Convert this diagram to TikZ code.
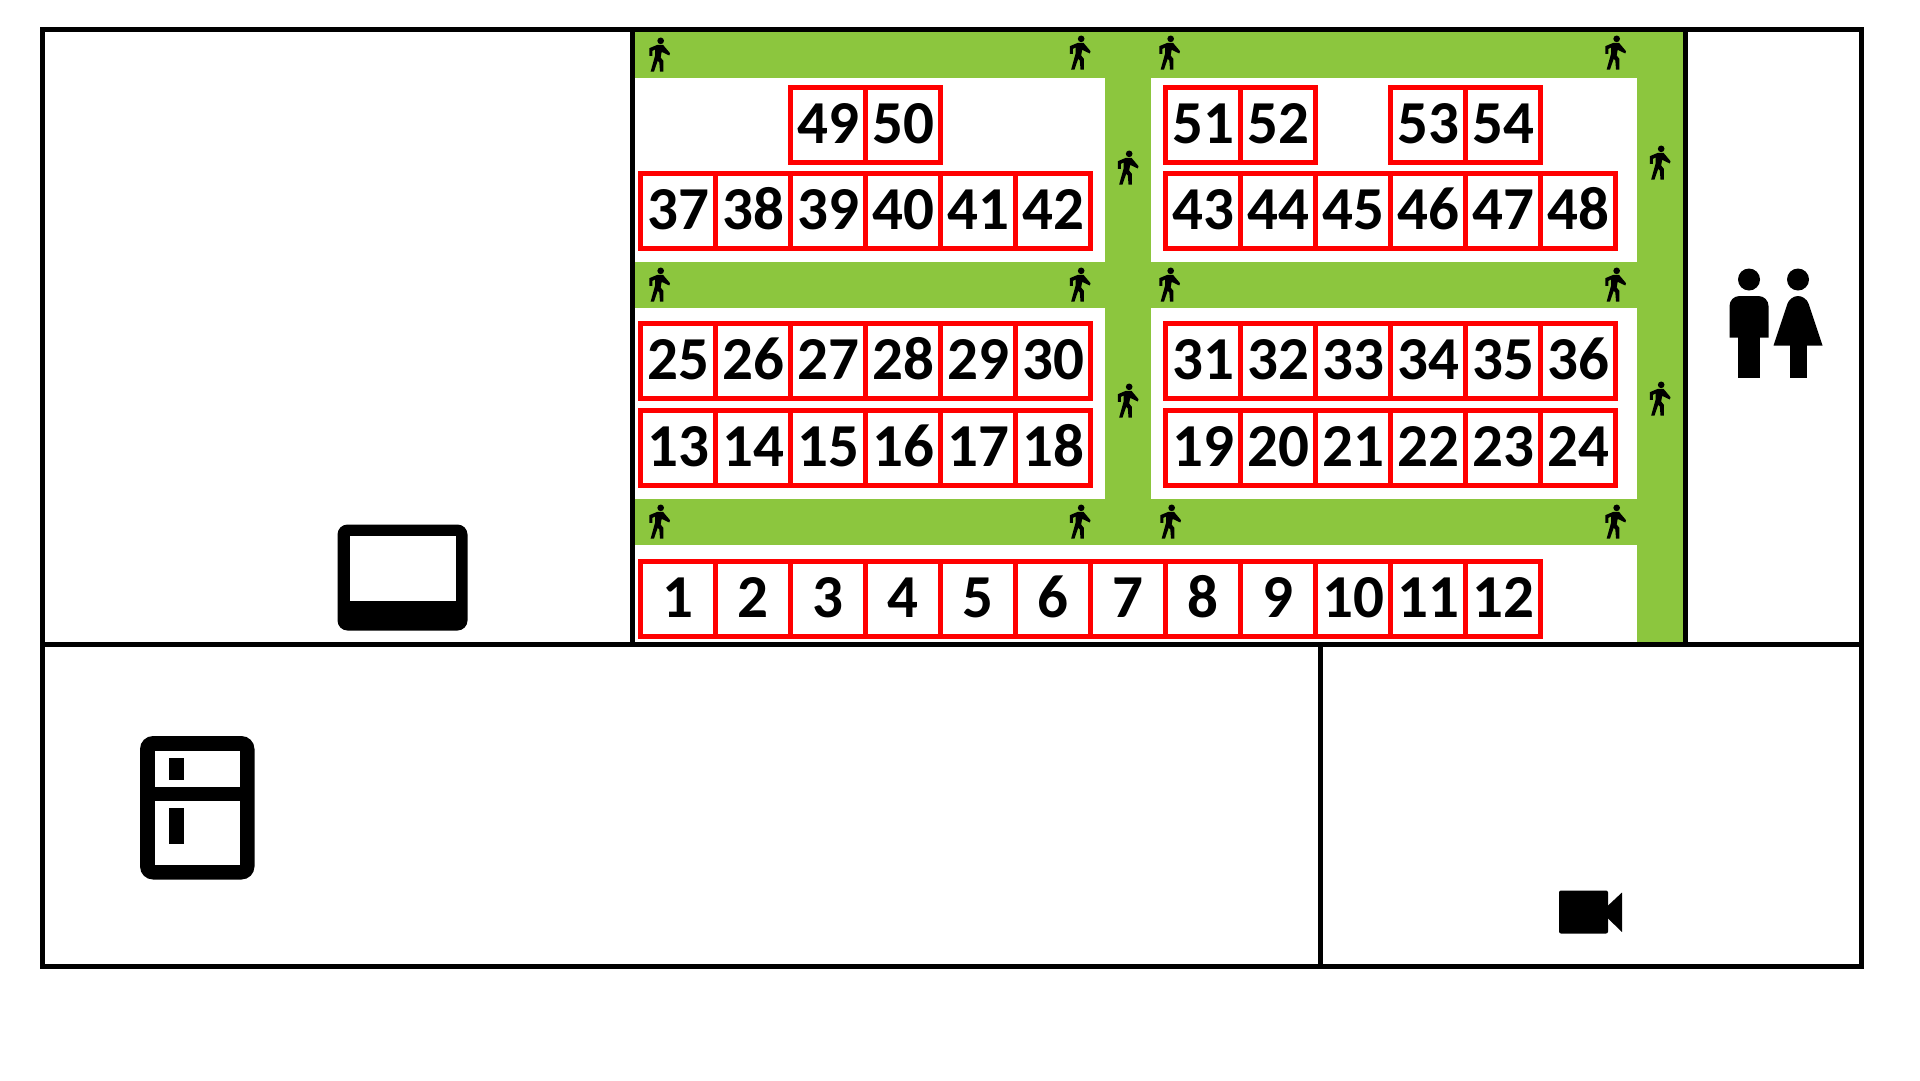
\documentclass[tikz,border=0pt]{standalone}
\usepackage{fontspec}
\setmainfont{Carlito}
\usetikzlibrary{positioning}
\definecolor{path}{HTML}{8CC63E}
\definecolor{seatred}{HTML}{FF0000}

\begin{document}
\begin{tikzpicture}[x=1pt,y=-1pt,
seat/.style={draw=seatred,line width=5pt,outer sep=0pt,inner sep=0pt,minimum width=75pt,minimum height=75pt,text height=36pt,text depth=0pt,font=\fontsize{61}{61}\selectfont\bfseries},
wall/.style={draw=black,line width=5pt},
walker/.pic={\fill[scale=1/3] (3.5,-45.5) circle (10);
\fill[scale=1/3] (-6.5,-33.5)--(10.5,-33.5)--(31.5,-8.5)--(29.5,-1.5)--(10.5,-10.5)--(6.5,-12.5)--(3.5,4.5)--(11.5,14.5)--(11.5,46.5)--(1.5,46.5)--(-0.5,19.5)--(-5.5,14.5)--(-16.5,46.5)--(-26.5,46.5)--(-13.5,-0.5)--(-13.5,-19.5)--(-21.5,-15.5)--(-21.5,-0.5)--(-30.5,-0.5)--(-30.5,-23.5)--cycle;}]
\useasboundingbox[fill=white] (0,0) rectangle (1920,1080);
% green walkway and the white blocks on it
\fill[path] (635,32) rectangle (1684,642);
\fill[white] (635,78) rectangle (1105,262);
\fill[white] (1151,78) rectangle (1637,262);
\fill[white] (635,308) rectangle (1105,499);
\fill[white] (1151,308) rectangle (1637,499);
\fill[white] (635,545) rectangle (1637,642);
% seats
\node[seat,anchor=north west] (s1) at (640.5,561.5) {1};
\foreach \n in {2,...,12}{\pgfmathtruncatemacro{\p}{\n-1}\node[seat,right=0pt of s\p] (s\n) {\n};}
\node[seat,anchor=north west] (s13) at (640.5,410.5) {13};
\foreach \n in {14,...,18}{\pgfmathtruncatemacro{\p}{\n-1}\node[seat,right=0pt of s\p] (s\n) {\n};}
\node[seat,right=75pt of s18] (s19) {19};
\foreach \n in {20,...,24}{\pgfmathtruncatemacro{\p}{\n-1}\node[seat,right=0pt of s\p] (s\n) {\n};}
\node[seat,above=12pt of s13] (s25) {25};
\foreach \n in {26,...,30}{\pgfmathtruncatemacro{\p}{\n-1}\node[seat,right=0pt of s\p] (s\n) {\n};}
\node[seat,right=75pt of s30] (s31) {31};
\foreach \n in {32,...,36}{\pgfmathtruncatemacro{\p}{\n-1}\node[seat,right=0pt of s\p] (s\n) {\n};}
\node[seat,anchor=north west] (s37) at (640.5,173.5) {37};
\foreach \n in {38,...,42}{\pgfmathtruncatemacro{\p}{\n-1}\node[seat,right=0pt of s\p] (s\n) {\n};}
\node[seat,right=75pt of s42] (s43) {43};
\foreach \n in {44,...,48}{\pgfmathtruncatemacro{\p}{\n-1}\node[seat,right=0pt of s\p] (s\n) {\n};}
\node[seat,above=11pt of s39] (s49) {49};
\node[seat,right=0pt of s49] (s50) {50};
\node[seat,above=11pt of s43] (s51) {51};
\node[seat,right=0pt of s51] (s52) {52};
\node[seat,above=11pt of s46] (s53) {53};
\node[seat,right=0pt of s53] (s54) {54};
% walls
\draw[wall] (42,29.5) rectangle (1861.5,966);
\draw[wall] (42,644.5)--(1861.5,644.5);
\draw[wall] (632.5,29.5)--(632.5,644.5);
\draw[wall] (1685.5,29.5)--(1685.5,644.5);
\draw[wall] (1320,644.5)--(1320,966);
% walkers
\foreach \x/\y in {659.5/56,1080/54,1169.5/54,1615.5/54,659.5/286,1080/286,1169.5/286,1615.5/286,659.5/523,1080/523,1170.5/523,1615.5/523,1128/169,1128/402,1660/164,1660/400}
\pic at (\x,\y) {walker};
% tv
\fill[rounded corners=10pt] (337.5,524.5) rectangle (467.5,630.5);
\fill[white] (349.5,536) rectangle (455.5,600.5);
% fridge
\fill[rounded corners=13pt] (140,736) rectangle (254.5,879.5);
\fill[white] (154.5,750.5) rectangle (240,786.5);
\fill[white] (154.5,800.5) rectangle (240,864.5);
\fill (168.5,757.5) rectangle (183.5,779.5);
\fill (168.5,807.5) rectangle (183.5,843.5);
% camera
\fill[rounded corners=2pt] (1559,890.5) rectangle (1608,933.5);
\fill (1607,906.5)--(1622,892.5)--(1622,932)--(1607,917.5)--cycle;
% toilets
\fill (1749,279.5) circle (11);
\fill (1798,279.5) circle (11);
\fill (1729.5,337.5)[rounded corners=10pt]--(1729.5,296)--(1768.5,296)[sharp corners]--(1768.5,337.5)--cycle;
\fill (1738,330) rectangle (1760,378);
\fill (1773.5,345.5)[rounded corners=8pt]--(1790,296)--(1806,296)[sharp corners]--(1822.5,345.5)--cycle;
\fill (1789.5,340) rectangle (1806.5,378);
\end{tikzpicture}
\end{document}
